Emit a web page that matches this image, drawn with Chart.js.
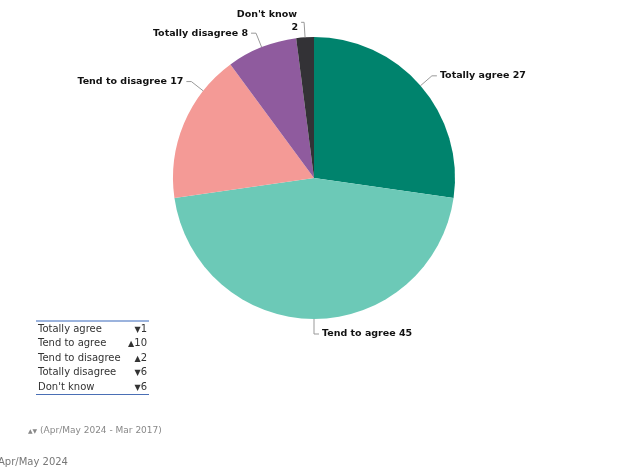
<!DOCTYPE html>
<html>
<head>
<meta charset="utf-8">
<script src="https://cdn.jsdelivr.net/npm/chart.js@4/dist/chart.umd.min.js"></script>
<style>
  body { margin: 0; background: #fff; font-family: "DejaVu Sans", sans-serif; }
  #wrap { position: relative; width: 625px; height: 470px; overflow: hidden; }
  #pie { position: absolute; left: 0; top: 0; }
  #changes { position: absolute; left: 36px; top: 320px; width: 113px;
    border-top: 2px solid #9bb3dd; border-bottom: 1px solid #4a6fb5; font-size: 10px; color: #333; }
  #changes .row { height: 14.4px; line-height: 14.4px; white-space: nowrap; position: relative; padding-left: 2px; }
  #changes .v { position: absolute; right: 2px; top: 0; }
  #changes .tri { font-size: 8px; }
  #note { position: absolute; left: 28px; top: 425px; font-size: 9px; color: #888; }
  #note .tri { font-size: 6px; }
  #wave { position: absolute; left: -2px; top: 456px; font-size: 10px; color: #777; }
</style>
</head>
<body>
<div id="wrap">
  <canvas id="pie" width="625" height="470"></canvas>
  <div id="changes"></div>
  <div id="note"><span class="tri">▲▼</span> (Apr/May 2024 - Mar 2017)</div>
  <div id="wave">Apr/May 2024</div>
</div>
<script>
/* ================= DATA ================= */

const categories = ['Totally agree', 'Tend to agree', 'Tend to disagree', 'Totally disagree', "Don't know"];
const shares = [27, 45, 17, 8, 2];
const changeDirs = ['down', 'up', 'up', 'down', 'down'];
const changeValues = [1, 10, 2, 6, 6];
const sliceColors = ['#00836d', '#6cc9b7', '#f49a96', '#8f5b9e', '#333236'];

/* ================= CHANGE TABLE ================= */

const table = document.getElementById('changes');
categories.forEach((c, i) => {
  const row = document.createElement('div');
  row.className = 'row';
  const arrow = changeDirs[i] === 'up' ? '▲' : '▼';
  row.innerHTML = c + '<span class="v"><span class="tri">' + arrow + '</span>' + changeValues[i] + '</span>';
  table.appendChild(row);
});

/* ================= LABEL PLUGIN ================= */

// draws "label value" outside each slice with a small leader line
const outsideLabels = {
  id: 'outsideLabels',
  afterDraw(chart, args, opts) {
    const ctx = chart.ctx;
    const meta = chart.getDatasetMeta(0);
    ctx.save();
    ctx.font = 'bold 9.5px "DejaVu Sans"';
    ctx.fillStyle = '#111';
    ctx.strokeStyle = '#999';
    ctx.lineWidth = 1;
    meta.data.forEach((arc, i) => {
      const frac = (opts.fractions && opts.fractions[i]) || 0.5;
      const a = arc.startAngle + frac * (arc.endAngle - arc.startAngle);
      const cx = arc.x, cy = arc.y, r = arc.outerRadius;
      const ext = 15;
      const x0 = cx + Math.cos(a) * r, y0 = cy + Math.sin(a) * r;
      const x1 = cx + Math.cos(a) * (r + ext), y1 = cy + Math.sin(a) * (r + ext);
      const right = x1 >= cx - 1;
      const twoLine = opts.twoLine && opts.twoLine[i];
      const seg = twoLine ? 3 : 5;
      const x2 = right ? x1 + seg : x1 - seg;
      ctx.beginPath();
      ctx.moveTo(x0, y0);
      ctx.lineTo(x1, y1);
      ctx.lineTo(x2, y1);
      ctx.stroke();
      const label = chart.data.labels[i];
      const val = chart.data.datasets[0].data[i];
      ctx.textBaseline = 'middle';
      ctx.textAlign = right ? 'left' : 'right';
      const tx = right ? x2 + 3 : x2 - 3;
      if (twoLine) {
        ctx.textAlign = 'right';
        ctx.fillText(String(val), tx, y1 + 5);
        ctx.fillText(label, tx - 1, y1 - 8);
      } else {
        ctx.fillText(label + ' ' + val, tx, y1);
      }
    });
    ctx.restore();
  }
};

/* ================= PIE ================= */

new Chart(document.getElementById('pie'), {
  type: 'pie',
  data: {
    labels: categories,
    datasets: [{
      data: shares,
      backgroundColor: sliceColors,
      borderWidth: 0
    }]
  },
  options: {
    responsive: false,
    animation: false,
    layout: { padding: { left: 173, right: 170, top: 37, bottom: 151 } },
    plugins: {
      legend: { display: false },
      tooltip: { enabled: false },
      outsideLabels: {
        fractions: [0.5, 0.5, 0.75, 0.5, 0.5],
        twoLine: [false, false, false, false, true]
      }
    }
  },
  plugins: [outsideLabels]
});
</script>
</body>
</html>
